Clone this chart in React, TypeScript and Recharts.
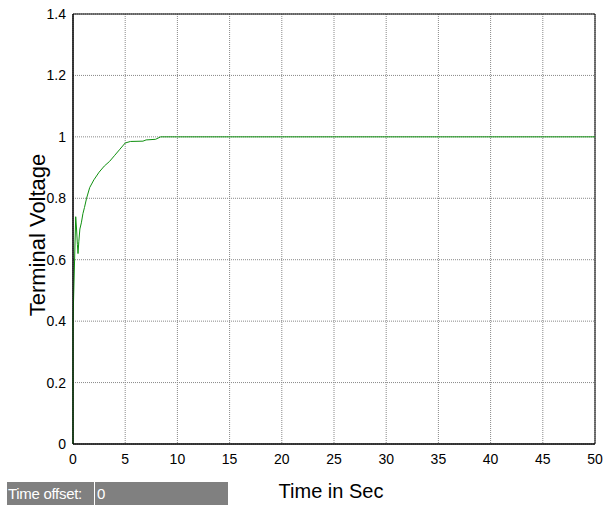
import { LineChart, Line, XAxis, YAxis, CartesianGrid, ReferenceArea } from "recharts"

// time in seconds
const times = [0, 0, 0.26, 0.34, 0.42, 0.48, 0.56, 0.66, 0.8, 0.95, 1.1, 1.3, 1.6, 2.0, 2.5, 3.0, 3.5, 4.0, 4.5, 5.0, 5.5, 6.7, 7.0, 7.9, 8.4, 10, 50]
// terminal voltage (pu)
const volts = [0, 0.4, 0.74, 0.7, 0.65, 0.62, 0.66, 0.7, 0.72, 0.75, 0.77, 0.8, 0.835, 0.86, 0.885, 0.905, 0.92, 0.94, 0.96, 0.98, 0.985, 0.986, 0.99, 0.992, 1, 1, 1]

const xTicks = [0, 5, 10, 15, 20, 25, 30, 35, 40, 45, 50]
const yTicks = [0, 0.2, 0.4, 0.6, 0.8, 1, 1.2, 1.4]

const data = times.map((t, i) => ({ t, v: volts[i] }))

const font = "'Liberation Sans', Arial, sans-serif"

export default function App() {
  return (
    <div style={{ position: "absolute", left: 0, top: 0, width: 604, height: 506, background: "#fff", fontFamily: font }}>
      <LineChart width={604} height={506} data={data} margin={{ top: 14, right: 9, left: 23, bottom: 32 }}>
        <CartesianGrid stroke="#888" strokeDasharray="1 1" />
        <XAxis
          dataKey="t"
          type="number"
          domain={[0, 50]}
          ticks={xTicks}
          height={30}
          tickLine={false}
          tickSize={6}
          tickMargin={4}
          axisLine={{ stroke: "#000" }}
          tick={{ fill: "#000", fontSize: 14, fontFamily: font }}
        />
        <YAxis
          type="number"
          domain={[0, 1.4]}
          ticks={yTicks}
          width={50}
          tickLine={false}
          tickSize={5}
          tickMargin={2}
          axisLine={{ stroke: "#000" }}
          tickFormatter={(v: number) => String(Math.round(v * 10) / 10)}
          tick={{ fill: "#000", fontSize: 14, fontFamily: font }}
        />
        <ReferenceArea x1={0} x2={50} y1={0} y2={1.4} fill="none" stroke="#000" strokeWidth={1} />
        <Line type="linear" dataKey="v" stroke="#109010" strokeWidth={1} dot={false} isAnimationActive={false} />
      </LineChart>
      <div
        style={{
          position: "absolute",
          left: 38,
          top: 235,
          transform: "translate(-50%, -50%) rotate(-90deg)",
          whiteSpace: "nowrap",
          fontSize: 22,
          color: "#000",
        }}
      >
        Terminal Voltage
      </div>
      <div
        style={{
          position: "absolute",
          left: 331,
          top: 491,
          transform: "translate(-50%, -50%)",
          whiteSpace: "nowrap",
          fontSize: 20,
          color: "#000",
        }}
      >
        Time in Sec
      </div>
      <div
        style={{
          position: "absolute",
          left: 7,
          top: 482,
          width: 221,
          height: 23,
          background: "#808080",
          color: "#fff",
          fontSize: 15,
          display: "flex",
          alignItems: "center",
        }}
      >
        <span style={{ width: 86, paddingLeft: 1, letterSpacing: -0.3 }}>Time offset:</span>
        <span style={{ width: 1, height: 23, background: "#fff" }} />
        <span style={{ paddingLeft: 2 }}>0</span>
      </div>
    </div>
  )
}
